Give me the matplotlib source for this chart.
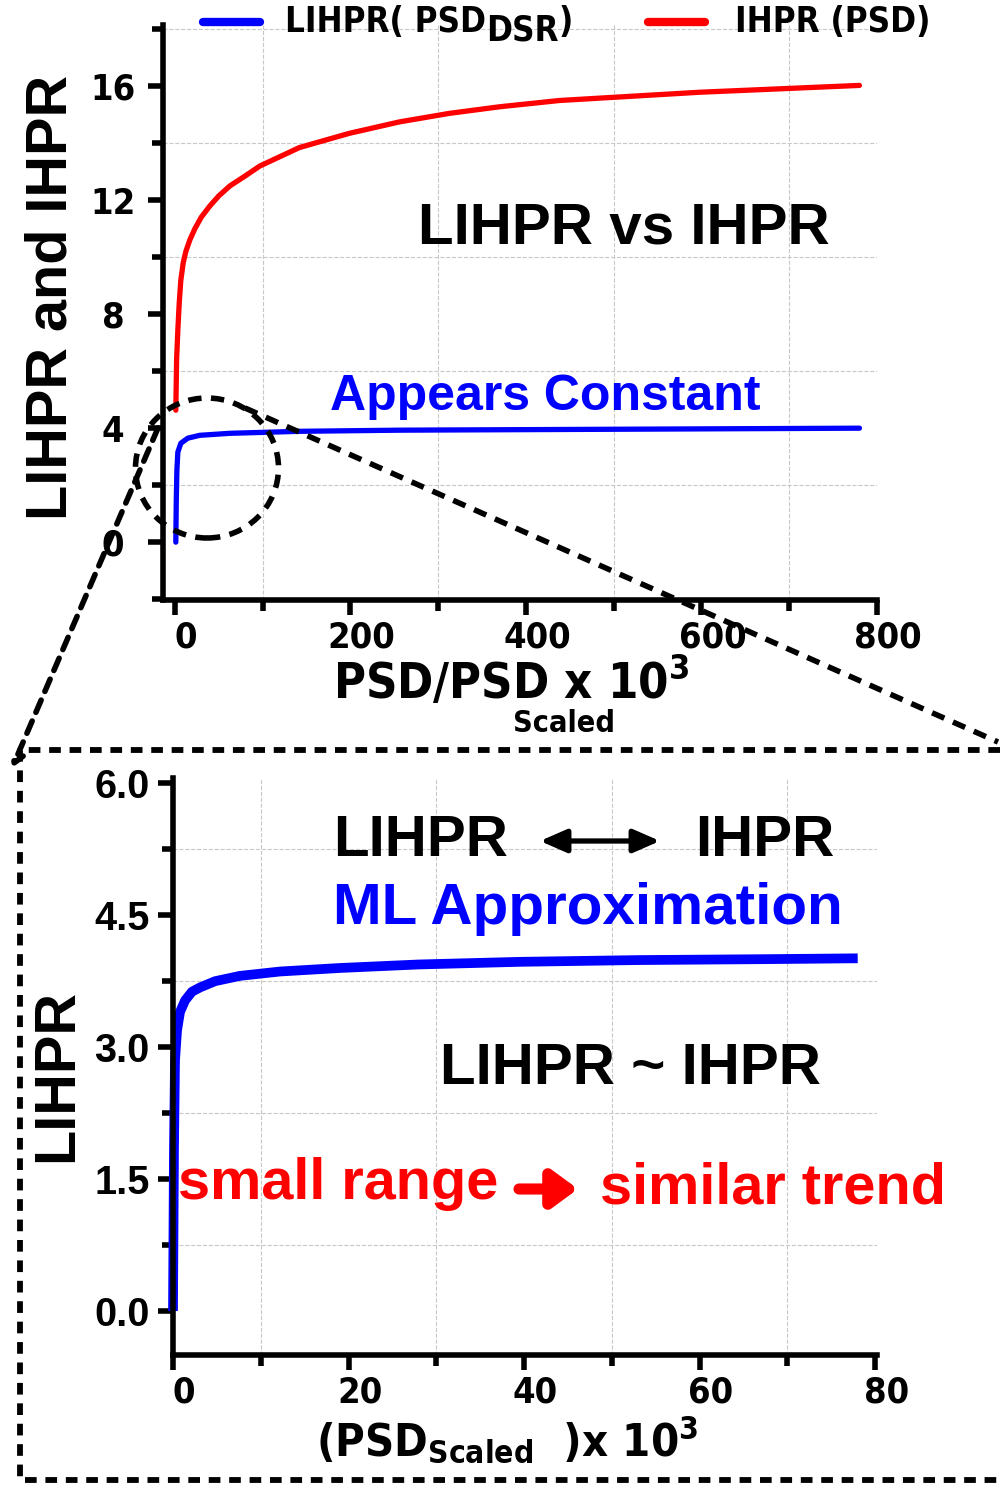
import numpy as np
import matplotlib
matplotlib.use('Agg')
import matplotlib.pyplot as plt
from matplotlib import font_manager
from matplotlib.patches import Ellipse, FancyArrowPatch
from matplotlib.lines import Line2D
from matplotlib.ticker import MultipleLocator, FormatStrFormatter
import matplotlib.transforms as mtransforms

# ── data ──────────────────────────────────────────────────────────────────────
# upper panel: PSD/PSD_scaled x 1e3
x_lihpr_top = [1.1, 1.6, 2.3, 3.4, 6.8, 14.8, 28.5, 62.6, 142, 256, 484, 780]
y_lihpr_top = [0.0, 1.4, 2.5, 3.16, 3.47, 3.65, 3.75, 3.82, 3.89, 3.93, 3.96, 4.0]

x_ihpr_top = [1.1, 2.0, 3.4, 5.0, 6.8, 9.5, 12.5, 17, 22.8, 30, 39.9, 50, 62.6, 80,
              96.8, 142, 199, 256, 313, 370, 438, 598, 780]
y_ihpr_top = [4.63, 6.4, 7.44, 8.4, 9.19, 9.8, 10.2, 10.6, 11.0, 11.4, 11.8, 12.15,
              12.5, 12.85, 13.2, 13.85, 14.35, 14.75, 15.05, 15.28, 15.5, 15.79, 16.03]

# lower panel: PSD_scaled x 1e3
x_lihpr_low = [0, 0.11, 0.23, 0.46, 0.8, 1.37, 2.16, 3.1, 4.8, 7.6, 12.2, 19, 28,
               39.5, 53, 67, 78]
y_lihpr_low = [0, 1.83, 2.85, 3.19, 3.40, 3.53, 3.63, 3.68, 3.75, 3.81, 3.86, 3.9,
               3.94, 3.97, 3.99, 4.0, 4.01]

# ── fonts ─────────────────────────────────────────────────────────────────────
names = {f.name for f in font_manager.fontManager.ttflist}
WIDE = 'Liberation Sans' if 'Liberation Sans' in names else 'DejaVu Sans'
NARROW = dict(family=WIDE, stretch='normal')
for f in font_manager.fontManager.ttflist:
    if 'Narrow' in f.name and 'Liberation' in f.name:
        NARROW = dict(family=f.name, stretch='normal')
        break
else:
    for f in font_manager.fontManager.ttflist:
        if f.stretch in ('condensed', 'semi-condensed') and f.weight in ('bold', 700):
            NARROW = dict(family=f.name, stretch=f.stretch)
            break
IS_NARROW = NARROW['family'] != WIDE
NS = 1.0 if IS_NARROW else 0.82   # size factor when no narrow face exists

plt.rcParams['font.family'] = WIDE
plt.rcParams['font.weight'] = 'bold'

BLUE = '#0000FF'
RED = '#FF0000'
GRID = '#C8C8C8'

fig = plt.figure(figsize=(10, 14.85), dpi=100)


def fx(px):
    return px / 1000


def fy(py):
    return 1 - py / 1485


def narrow_text(t, size):
    t.set_fontfamily(NARROW['family'])
    t.set_fontstretch(NARROW['stretch'])
    t.set_fontsize(size * NS)
    t.set_fontweight('bold')


def style_axes(ax, ylab_narrow, xpad, ypad):
    for s in ('top', 'right'):
        ax.spines[s].set_visible(False)
    for s in ('left', 'bottom'):
        ax.spines[s].set_linewidth(4)
    ax.tick_params(which='major', direction='out', length=11, width=4)
    ax.tick_params(which='minor', direction='out', length=8, width=4)
    ax.tick_params(axis='x', which='major', pad=xpad)
    ax.tick_params(axis='y', which='major', pad=ypad)
    ax.grid(which='minor', color=GRID, linestyle='--', linewidth=0.8)
    ax.set_axisbelow(True)
    for lab in ax.get_xticklabels():
        narrow_text(lab, 26)
    for lab in ax.get_yticklabels():
        if ylab_narrow:
            narrow_text(lab, 26)
            lab.set_horizontalalignment('center')
        else:
            lab.set_fontsize(28.5)
            lab.set_fontweight('bold')
    shift = mtransforms.ScaledTranslation(8 / 72, 0, fig.dpi_scale_trans)
    for lab in ax.get_xticklabels():
        lab.set_transform(lab.get_transform() + shift)


# ── upper panel ───────────────────────────────────────────────────────────────
ax1 = fig.add_axes([0.163, fy(600), 0.714, (600 - 25) / 1485])
ax1.plot(x_ihpr_top, y_ihpr_top, color=RED, lw=3.8, solid_capstyle='round',
         solid_joinstyle='round')
ax1.plot(x_lihpr_top, y_lihpr_top, color=BLUE, lw=3.8, solid_capstyle='round',
         solid_joinstyle='round')
ax1.set_xlim(-13.5, 800)
ax1.set_ylim(-2.03, 18.15)
ax1.xaxis.set_major_locator(MultipleLocator(200))
ax1.xaxis.set_minor_locator(MultipleLocator(100))
ax1.yaxis.set_major_locator(MultipleLocator(4))
ax1.yaxis.set_minor_locator(MultipleLocator(2))
style_axes(ax1, True, 4, 25)

fig.text(fx(52), fy(297), 'LIHPR and IHPR', fontsize=41.5, fontweight='bold',
         rotation=90, ha='center', va='center')

fig.text(fx(418), fy(229), 'LIHPR vs IHPR', fontsize=42, fontweight='bold',
         ha='left', va='center')
fig.text(fx(330), fy(397), 'Appears Constant', fontsize=36, fontweight='bold',
         color=BLUE, ha='left', va='center')

t = fig.text(fx(333), fy(682), r'PSD/PSD x 10$^{\mathregular{3}}$',
             ha='left', va='center')
narrow_text(t, 35)
t = fig.text(fx(564), fy(723), 'Scaled', ha='center', va='center')
narrow_text(t, 22)

# legend drawn by hand
fig.add_artist(Line2D([fx(203), fx(260)], [fy(22), fy(22)], color=BLUE, lw=6,
                      solid_capstyle='round', transform=fig.transFigure))
fig.add_artist(Line2D([fx(648), fx(705)], [fy(22), fy(22)], color=RED, lw=6,
                      solid_capstyle='round', transform=fig.transFigure))
t_leg = fig.text(fx(285), fy(22), 'LIHPR( PSD', ha='left', va='center')
narrow_text(t_leg, 25)
t_sub = ax1.annotate('DSR', xy=(1, 0), xycoords=t_leg, xytext=(0, -6),
                     textcoords='offset points', ha='left', va='bottom',
                     annotation_clip=False)
narrow_text(t_sub, 25)
t_par = ax1.annotate(')', xy=(1, 0), xycoords=t_sub, xytext=(0, 6),
                     textcoords='offset points', ha='left', va='bottom',
                     annotation_clip=False)
narrow_text(t_par, 25)
t = fig.text(fx(735), fy(22), 'IHPR (PSD)', ha='left', va='center')
narrow_text(t, 25)

# ── lower panel ───────────────────────────────────────────────────────────────
ax2 = fig.add_axes([0.173, fy(1355), 0.704, (1355 - 778) / 1485])
ax2.plot(x_lihpr_low, y_lihpr_low, color=BLUE, lw=7, solid_capstyle='butt',
         solid_joinstyle='round', clip_on=False)
ax2.set_xlim(0, 80.2)
ax2.set_ylim(-0.5, 6.06)
ax2.xaxis.set_major_locator(MultipleLocator(20))
ax2.xaxis.set_minor_locator(MultipleLocator(10))
ax2.yaxis.set_major_locator(MultipleLocator(1.5))
ax2.yaxis.set_minor_locator(MultipleLocator(0.75))
ax2.yaxis.set_major_formatter(FormatStrFormatter('%.1f'))
style_axes(ax2, False, 4, 6)

fig.text(fx(57), fy(1075), 'LIHPR', fontsize=41.5, fontweight='bold',
         rotation=90, ha='center', va='center')

t = fig.text(fx(316), fy(1440),
             r'(PSD$_{\mathregular{Scaled}}$  )x 10$^{\mathregular{3}}$',
             ha='left', va='center')
narrow_text(t, 32.5)

fig.text(fx(333), fy(841), 'LIHPR', fontsize=42, fontweight='bold',
         ha='left', va='center')
fig.text(fx(695), fy(841), 'IHPR', fontsize=42, fontweight='bold',
         ha='left', va='center')
fig.add_artist(FancyArrowPatch((fx(540), fy(841)), (fx(660), fy(841)),
                               transform=fig.transFigure,
                               arrowstyle='<|-|>,head_length=16,head_width=7',
                               lw=3.8, color='black', shrinkA=0, shrinkB=0))
fig.text(fx(333), fy(909), 'ML Approximation', fontsize=42, fontweight='bold',
         color=BLUE, ha='left', va='center')
fig.text(fx(440), fy(1069), 'LIHPR ~ IHPR', fontsize=42, fontweight='bold',
         ha='left', va='center')
fig.text(fx(178), fy(1184), 'small range', fontsize=41.5, fontweight='bold',
         color=RED, ha='left', va='center')
fig.add_artist(FancyArrowPatch((fx(519), fy(1189)), (fx(578), fy(1189)),
                               transform=fig.transFigure,
                               arrowstyle='-|>,head_length=15,head_width=11',
                               lw=8, color=RED, shrinkA=0, shrinkB=0,
                               capstyle='round'))
fig.text(fx(600), fy(1188), 'similar trend', fontsize=41.5, fontweight='bold',
         color=RED, ha='left', va='center')

# ── zoom annotation (dashed ellipse, connectors, frame) ───────────────────────
DASH = (0, (2.4, 1.7))
fig.add_artist(Ellipse((fx(207), fy(468)), 143 / 1000, 140 / 1485,
                       transform=fig.transFigure, fill=False, edgecolor='black',
                       lw=4, linestyle=DASH))
fig.add_artist(Line2D([fx(245), fx(998)], [fy(408), fy(742)], color='black', lw=4,
                      linestyle=DASH, transform=fig.transFigure))
fig.add_artist(FancyArrowPatch((fx(158), fy(428)), (fx(12), fy(768)),
                               transform=fig.transFigure,
                               arrowstyle='->,head_length=7,head_width=4',
                               lw=4, color='black', linestyle=DASH,
                               shrinkA=0, shrinkB=0))
fig.add_artist(Line2D([fx(1000), fx(20), fx(20), fx(1000)],
                      [fy(750), fy(750), fy(1480), fy(1480)], color='black', lw=4.2,
                      linestyle=(0, (2.0, 1.5)), transform=fig.transFigure))

fig.savefig('out.png', dpi=100)
